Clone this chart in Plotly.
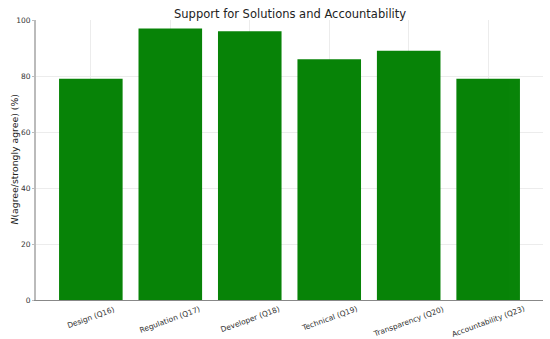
import plotly.graph_objects as go

categories = ["Design (Q16)", "Regulation (Q17)", "Developer (Q18)",
              "Technical (Q19)", "Transparency (Q20)", "Accountability (Q23)"]
values = [79, 97, 96, 86, 89, 79]
y_ticks = [0, 20, 40, 60, 80, 100]
title_text = "Support for Solutions and Accountability"
y_title = "<i>N</i>(agree/strongly agree) (%)"

fig = go.Figure()
fig.add_trace(go.Bar(
    x=list(range(len(categories))), y=values,
    width=0.8, marker=dict(color="#008000", line=dict(width=0)),
    opacity=0.97, hoverinfo="skip",
))

for i, c in enumerate(categories):
    fig.add_annotation(x=i, y=0, xref="x", yref="paper", text=c,
                       textangle=-20, showarrow=False, xanchor="center",
                       yanchor="top", yshift=-2,
                       font=dict(family="DejaVu Sans", size=7.5, color="#333333"))

# y-axis title as rotated text beside the axis
fig.add_annotation(x=0, y=0.5, xref="paper", yref="paper", text=y_title,
                   textangle=-90, showarrow=False, xanchor="center",
                   yanchor="middle", xshift=-22.5,
                   font=dict(family="DejaVu Sans", size=9.3, color="#222222"))

fig.update_layout(
    width=550, height=339,
    margin=dict(l=36, r=7, t=20, b=39, autoexpand=False),
    paper_bgcolor="white", plot_bgcolor="white",
    title=dict(text=title_text,
               x=0.5274, xanchor="center", y=0.958, yanchor="middle",
               font=dict(family="DejaVu Sans", size=11.5, color="#222222")),
    font=dict(family="DejaVu Sans"),
    showlegend=False,
    bargap=0.2,
)
fig.update_xaxes(
    range=[-0.69, 5.69], tickvals=list(range(len(categories))),
    showticklabels=False, showgrid=True, gridcolor="#ececec", gridwidth=1,
    showline=True, linecolor="#888888", linewidth=1, zeroline=False,
    ticks="", fixedrange=True, automargin=False,
)
fig.update_yaxes(
    range=[0, 100], tickvals=y_ticks, automargin=False, fixedrange=True,
    tickfont=dict(family="DejaVu Sans", size=7.5, color="#333333"),
    showgrid=True, gridcolor="#ececec", gridwidth=1,
    showline=True, linecolor="#bbbbbb", linewidth=2, zeroline=False,
    ticks="outside", ticklen=2, tickcolor="#bbbbbb", tickwidth=1,
)

fig.write_html("out.html", config={"displayModeBar": False},
               post_script="document.body.style.margin='0';")
